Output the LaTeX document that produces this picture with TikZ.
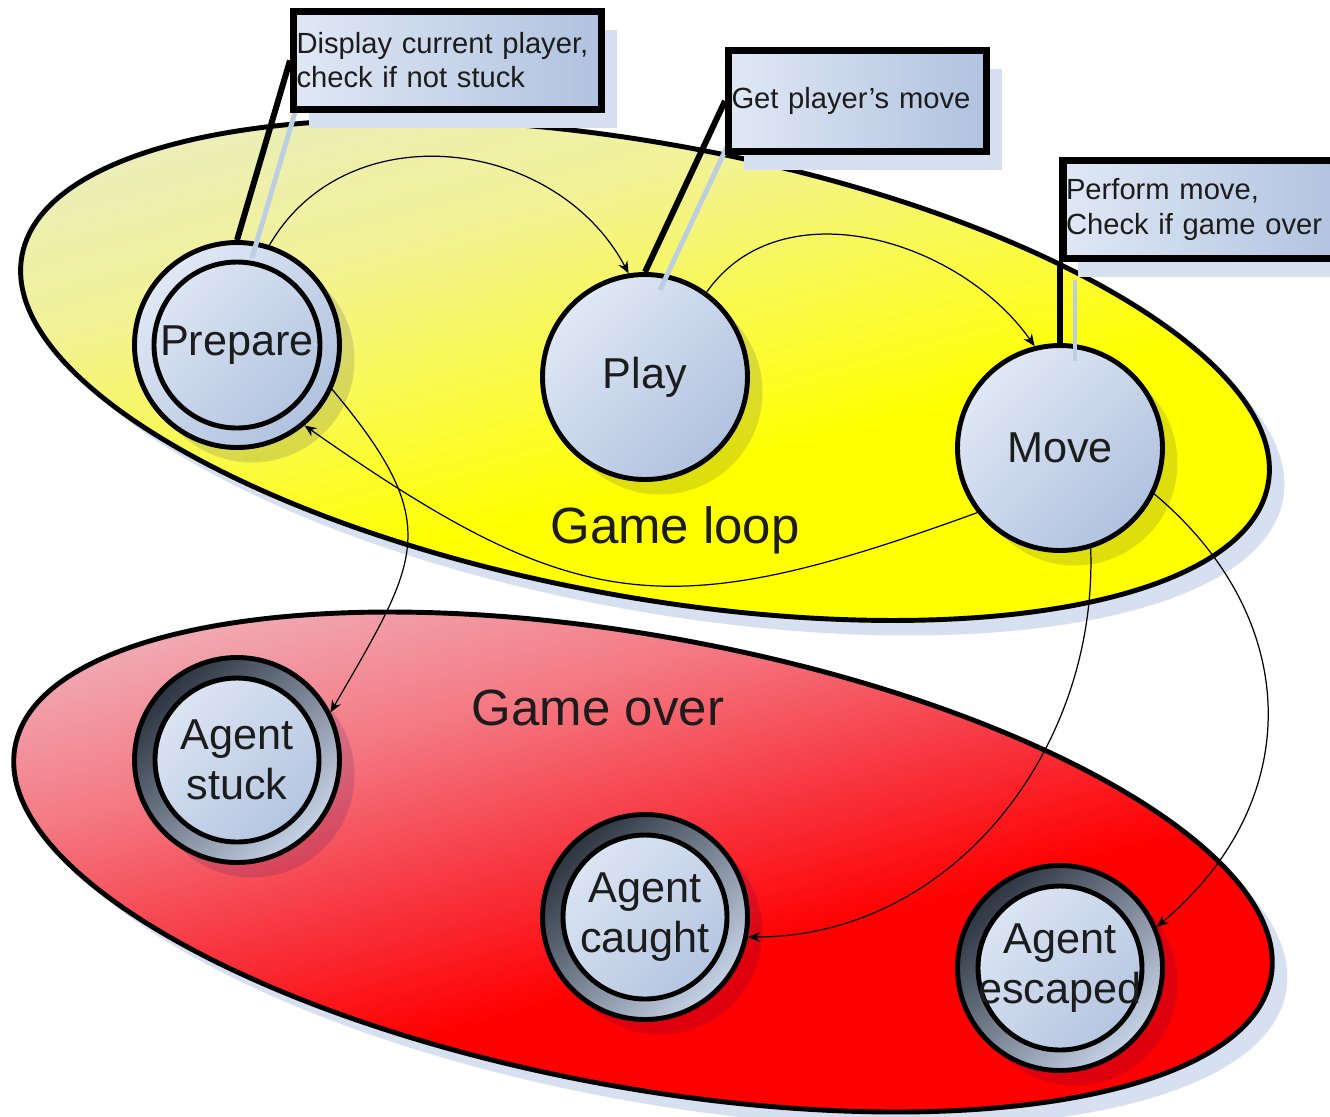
\documentclass[tikz,border=0pt]{standalone}
\usepackage{fontspec}
\setmainfont{Liberation Sans}
\usetikzlibrary{arrows.meta,shapes.geometric,shadows}
\pgfdeclarelayer{front}
\pgfsetlayers{main,front}

\definecolor{stateTop}{RGB}{224,232,245}
\definecolor{stateBot}{RGB}{176,194,223}
\definecolor{ringDark}{RGB}{44,52,64}
\definecolor{ringLight}{RGB}{198,210,230}
\definecolor{shadowBlue}{RGB}{214,224,240}
\definecolor{leadBlue}{RGB}{190,206,226}
\definecolor{loopTop}{RGB}{234,238,190}
\definecolor{loopUp}{RGB}{242,242,150}
\definecolor{loopMid}{RGB}{250,250,70}
\definecolor{overTop}{RGB}{240,176,186}
\definecolor{overUp}{RGB}{244,120,130}
\definecolor{overMid}{RGB}{247,52,62}
\definecolor{inkGrey}{RGB}{28,28,28}

\pgfdeclareverticalshading{loopshade}{100bp}{color(0bp)=(yellow); color(40bp)=(yellow);
  color(50bp)=(loopMid); color(62bp)=(loopUp); color(75bp)=(loopTop); color(100bp)=(loopTop)}
\pgfdeclareverticalshading{overshade}{100bp}{color(0bp)=(red); color(40bp)=(red);
  color(50bp)=(overMid); color(62bp)=(overUp); color(75bp)=(overTop); color(100bp)=(overTop)}

\tikzset{
  area/.style={ellipse, draw, line width=1.4pt, rotate=-10.4, shade, shading angle=15,
    drop shadow={shadow xshift=0.15cm, shadow yshift=-0.15cm, fill=shadowBlue, opacity=1}},
  state/.style={circle, draw, line width=1.4pt, minimum size=2.05cm, inner sep=0pt,
    align=center, top color=stateTop, bottom color=stateBot, shading angle=45,
    font=\fontsize{12.3}{14.2}\selectfont, text=inkGrey,
    drop shadow={shadow xshift=0.15cm, shadow yshift=-0.15cm, fill=black!60!blue, opacity=0.13}},
  start/.style={state,
    path picture={\draw[line width=1.4pt] (path picture bounding box.center) circle (0.83cm);}},
  final/.style={state, top color=ringDark, bottom color=ringLight, shading angle=45,
    path picture={\draw[line width=1.4pt, top color=stateTop, bottom color=stateBot, shading angle=45]
      (path picture bounding box.center) circle (0.82cm);}},
  note/.style={rectangle, draw, line width=2pt, left color=stateTop, right color=stateBot,
    align=left, inner xsep=0.03cm, inner ysep=0pt, text=inkGrey,
    font=\fontsize{8.3}{9.7}\selectfont,
    drop shadow={shadow xshift=0.15cm, shadow yshift=-0.18cm, fill=shadowBlue, opacity=1}},
  tag/.style={font=\fontsize{14.5}{17}\selectfont, text=inkGrey},
  flow/.style={-{Stealth[length=1.2mm,width=1mm]}, line width=0.35pt},
  lead/.style={line width=1.7pt},
  leadshadow/.style={line width=1.4pt, draw=leadBlue}
}

\begin{document}
\begin{tikzpicture}
%%%%% START %%%%%
\useasboundingbox[fill=white] (0,0) rectangle (13.3,-11.16);

% callouts, kept above everything else
\begin{pgfonlayer}{front}
\node[note, minimum width=3.08cm, minimum height=0.98cm, text width=3.02cm] (noteprep) at (4.475,-0.605) {Display current player,\\check if not stuck};
\node[note, minimum width=2.58cm, minimum height=1.01cm, text width=2.52cm] (noteplay) at (8.575,-1.01) {Get player's move};
\node[note, minimum width=2.82cm, minimum height=0.98cm, text width=2.76cm] (notemove) at (12.04,-2.095) {Perform move,\\Check if game over};
\end{pgfonlayer}

% the two areas
\node[area, shading=loopshade, minimum width=12.67cm, minimum height=4.53cm] (loop) at (6.45,-3.70) {};
\node[area, shading=overshade, minimum width=12.77cm, minimum height=4.51cm] (over) at (6.43,-8.62) {};
\node[tag] (looplabel) at (6.75,-5.30) {Game loop};
\node[tag] (overlabel) at (5.98,-7.08) {Game over};

% states
\node[start] (prepare) at (2.37,-3.45) {Prepare};
\node[state] (play) at (6.45,-3.77) {Play};
\node[state] (move) at (10.60,-4.48) {Move};
\node[final] (stuck) at (2.37,-7.60) {Agent\\stuck};
\node[final] (caught) at (6.45,-9.17) {Agent\\caught};
\node[final] (escaped) at (10.60,-9.68) {Agent\\escaped};

% transitions
\draw[flow] (prepare.72) to[out=60, in=118, looseness=1.1] (play.99);
\draw[flow] (play.54) to[out=55, in=125] (move.104);
\draw[flow] (move.218) to[out=200, in=-35, looseness=1.25] (prepare.-50);
\draw[flow] (prepare.-25) to[out=-50, in=60, looseness=1.4] (stuck.27);
\draw[flow] (move.-73) to[out=-88, in=0] (caught.-11);
\draw[flow] (move.-26) to[out=-40, in=40, looseness=1.15] (escaped.23);

% callout leaders
\draw[leadshadow] ([shift={(0.15,-0.18)}]noteprep.west) -- ([shift={(0.15,-0.18)}]prepare.north);
\draw[leadshadow] ([shift={(0.15,-0.18)}]noteplay.west) -- ([shift={(0.15,-0.18)}]play.north);
\draw[leadshadow] ([shift={(0.15,-0.18)}]move.north) -- ([shift={(0.15,-0.18)}]move.north |- notemove.south);
\draw[lead] (noteprep.west) -- (prepare.north);
\draw[lead] (noteplay.west) -- (play.north);
\draw[lead] (move.north) -- (move.north |- notemove.south);
%%%%% END %%%%%
\end{tikzpicture}
\end{document}
